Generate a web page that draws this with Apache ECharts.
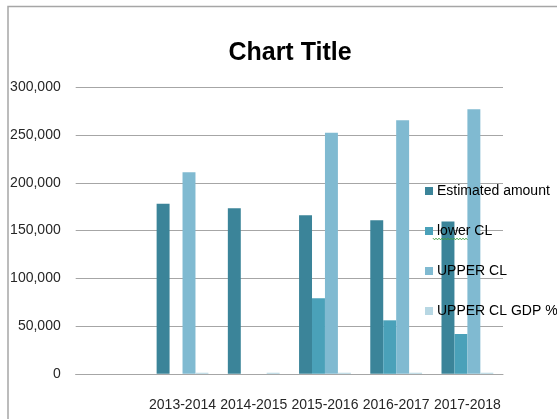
<!DOCTYPE html>
<html>
<head>
<meta charset="utf-8">
<script src="https://cdn.jsdelivr.net/npm/echarts@6/dist/echarts.min.js"></script>
<style>
  html, body { margin: 0; padding: 0; background: #fff; }
  #chart { width: 557px; height: 419px; }
</style>
</head>
<body>
<div id="chart"></div>
<script>
// Fiscal-year categories (the first slot is an empty category)
const categories = ['', '2013-2014', '2014-2015', '2015-2016', '2016-2017', '2017-2018'];

// Series values
const estimatedAmount = [null, 178000, 173300, 166000, 160700, 159500];
const lowerCL         = [null, null,   null,   79000,  56000,  41700];
const upperCL         = [null, 211000, null,   252400, 265400, 276900];
const upperClGdpPct   = [null, 1100,   1100,   1100,   1100,   1100];

const seriesNames = ['Estimated amount', 'lower CL', 'UPPER CL', 'UPPER CL GDP %'];
const seriesColors = ['#3b8499', '#4aa1b9', '#80bad1', '#b7d7e3'];

// Value-axis ticks
const yMin = 0, yMax = 300000, yStep = 50000;

const FONT = '"Liberation Sans", Arial, sans-serif';

const chart = echarts.init(document.getElementById('chart'), null, { renderer: 'canvas' });

const seriesData = [estimatedAmount, lowerCL, upperCL, upperClGdpPct];

// Wavy proofing underline below the "lower CL" legend label
const squiggle = [];
for (let x = 433, k = 0; x <= 468; x += 1.5, k++) {
  squiggle.push([x, 239 + (k % 2 === 0 ? -0.8 : 0.8)]);
}

chart.setOption({
  animation: false,
  backgroundColor: '#ffffff',
  color: seriesColors,
  title: {
    text: 'Chart Title',
    left: 285,
    textAlign: 'center',
    top: 36,
    textStyle: { fontFamily: FONT, fontSize: 25, fontWeight: 'bold', color: '#000' }
  },
  legend: {
    orient: 'vertical',
    left: 420,
    top: 177,
    itemWidth: 8,
    itemHeight: 8,
    itemGap: 22,
    icon: 'rect',
    data: seriesNames,
    textStyle: { fontFamily: FONT, fontSize: 14, color: '#000', lineHeight: 18, padding: [0, 0, 0, -1] }
  },
  grid: { left: 75.7, right: 54, top: 87.3, bottom: 45.2, containLabel: false },
  xAxis: {
    type: 'category',
    data: categories,
    axisTick: { show: false },
    axisLine: { lineStyle: { color: '#a6a6a6', width: 1 } },
    axisLabel: { fontFamily: FONT, fontSize: 14, color: '#262626', margin: 24, interval: 0 }
  },
  yAxis: {
    type: 'value',
    min: yMin,
    max: yMax,
    interval: yStep,
    axisLine: { show: false },
    axisTick: { show: false },
    splitLine: { lineStyle: { color: '#a6a6a6', width: 1 } },
    axisLabel: {
      fontFamily: FONT, fontSize: 14, color: '#262626', margin: 15,
      formatter: v => v.toLocaleString('en-US')
    }
  },
  series: seriesNames.map((name, i) => ({
    name,
    type: 'bar',
    data: seriesData[i],
    barGap: '0%',
    barCategoryGap: '27.27%',
    itemStyle: { color: seriesColors[i] },
    z: 2
  })),
  graphic: [
    // chart area frame
    {
      type: 'rect',
      shape: { x: 8, y: 6.5, width: 600, height: 500 },
      style: { fill: 'none', stroke: '#a6a6a6', lineWidth: 1.5 },
      silent: true
    },
    {
      type: 'polyline',
      shape: { points: squiggle },
      style: { stroke: '#3f9f3f', lineWidth: 1, fill: 'none' },
      z: 100,
      silent: true
    }
  ]
});
</script>
</body>
</html>
